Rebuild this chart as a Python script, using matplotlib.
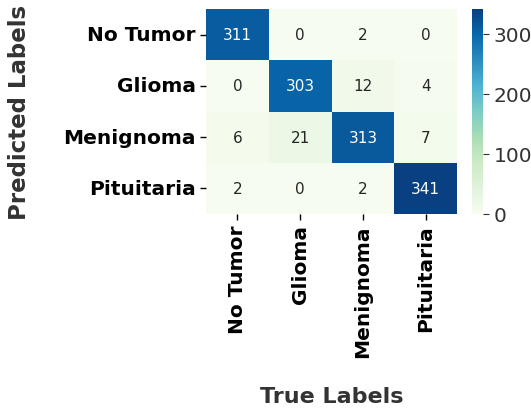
import numpy as np
import matplotlib
matplotlib.use('Agg')
import matplotlib.pyplot as plt
import seaborn as sns

labels = ['No Tumor', 'Glioma', 'Menignoma', 'Pituitaria']
row_notumor = [311, 0, 2, 0]
row_glioma = [0, 303, 12, 4]
row_menignoma = [6, 21, 313, 7]
row_pituitaria = [2, 0, 2, 341]

cm = np.array([row_notumor, row_glioma, row_menignoma, row_pituitaria])

fig = plt.figure(figsize=(5.31, 4.10), dpi=100)
ax = fig.add_axes([206/531, 1-215/410, 251/531, 205/410])
cax = fig.add_axes([472/531, 1-215/410, 11/531, 205/410])

sns.heatmap(cm, annot=True, fmt='d', cmap='GnBu', ax=ax, cbar_ax=cax,
            xticklabels=labels, yticklabels=labels,
            annot_kws={'fontsize': 11})

ax.set_xticklabels(labels, rotation=90, fontsize=14.5, fontweight='bold', color='black')
ax.set_yticklabels(labels, rotation=0, fontsize=14.5, fontweight='bold', color='black')
ax.tick_params(axis='both', length=4, width=1)
ax.set_xlabel('True Labels', fontsize=16, fontweight='bold', color='#333333', labelpad=21)
ax.set_ylabel('Predicted Labels', fontsize=16.5, fontweight='bold', color='#333333', labelpad=23)

cax.tick_params(labelsize=14.5, colors='#333333', length=4)
cax.set_yticks([0, 100, 200, 300])
for s in cax.spines.values():
    s.set_visible(False)

fig.savefig('out.png', dpi=100)
